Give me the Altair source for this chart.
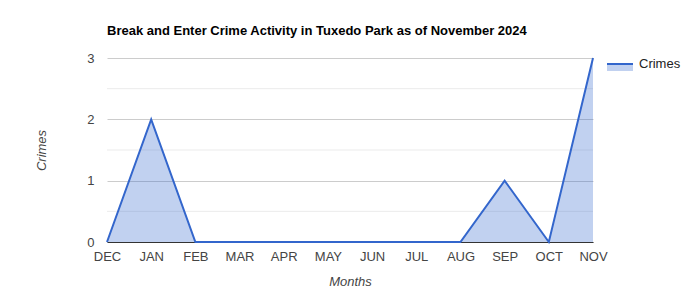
import altair as alt
import pandas as pd

months = ["DEC", "JAN", "FEB", "MAR", "APR", "MAY", "JUN", "JUL", "AUG", "SEP", "OCT", "NOV"]
crimes = [0, 2, 0, 0, 0, 0, 0, 0, 0, 1, 0, 3]
minor_grid = [0.5, 1.5, 2.5]
series_name = ["Crimes"]

FONT = "Liberation Sans"
BLUE = "#3366cc"

df = pd.DataFrame({"Month": months, "Crimes": crimes})
grid_df = pd.DataFrame({"v": minor_grid})
leg_df = pd.DataFrame({"name": series_name})

x_enc = alt.X("Month:O", sort=months, title="Months",
              scale=alt.Scale(type="point", padding=0),
              axis=alt.Axis(labelAngle=0, ticks=False, domainColor="#333333", domainWidth=1,
                            labelColor="#444444", labelFontSize=13, labelFont=FONT,
                            labelPadding=8, titleFont=FONT, titleFontSize=13,
                            titleFontStyle="italic", titleFontWeight="normal",
                            titleColor="#444444", titlePadding=12, grid=False))
y_enc = alt.Y("Crimes:Q", title="Crimes",
              scale=alt.Scale(domain=[0, 3], nice=False),
              axis=alt.Axis(values=[0, 1, 2, 3], format="d", ticks=False, domain=False,
                            gridColor="#cccccc", labelColor="#444444", labelFontSize=13,
                            labelFont=FONT, labelPadding=13, titleFont=FONT, titleFontSize=13,
                            titleFontStyle="italic", titleFontWeight="normal",
                            titleColor="#444444", titlePadding=38))

minor = alt.Chart(grid_df).mark_rule(color="#ebebeb", strokeWidth=1).encode(
    y=alt.Y("v:Q", scale=alt.Scale(domain=[0, 3], nice=False)))

area = alt.Chart(df).mark_area(color=BLUE, opacity=0.3).encode(x=x_enc, y=y_enc)
line = alt.Chart(df).mark_line(color=BLUE, strokeWidth=2).encode(x=x_enc, y=y_enc)

leg_fill = alt.Chart(leg_df).mark_rect(color=BLUE, opacity=0.3).encode(
    x=alt.value(500), x2=alt.value(526), y=alt.value(6), y2=alt.value(13))
leg_line = alt.Chart(leg_df).mark_rule(color=BLUE, strokeWidth=2).encode(
    x=alt.value(500), x2=alt.value(526), y=alt.value(6))
leg_text = alt.Chart(leg_df).mark_text(align="left", baseline="middle", font=FONT,
                                       fontSize=13, color="#222222").encode(
    x=alt.value(532), y=alt.value(6), text="name:N")

chart = alt.layer(minor, area, line, leg_fill, leg_line, leg_text).properties(
    width=486, height=184,
    title=alt.TitleParams("Break and Enter Crime Activity in Tuxedo Park as of November 2024",
                          anchor="start", frame="group", font=FONT, fontSize=13,
                          fontWeight="bold", color="#000000", offset=14),
    autosize=alt.AutoSizeParams(type="none"),
    padding={"left": 107, "top": 58, "right": 107, "bottom": 58},
).configure_view(stroke=None)

chart.save("out.html", embed_options={"renderer": "svg", "actions": False})
